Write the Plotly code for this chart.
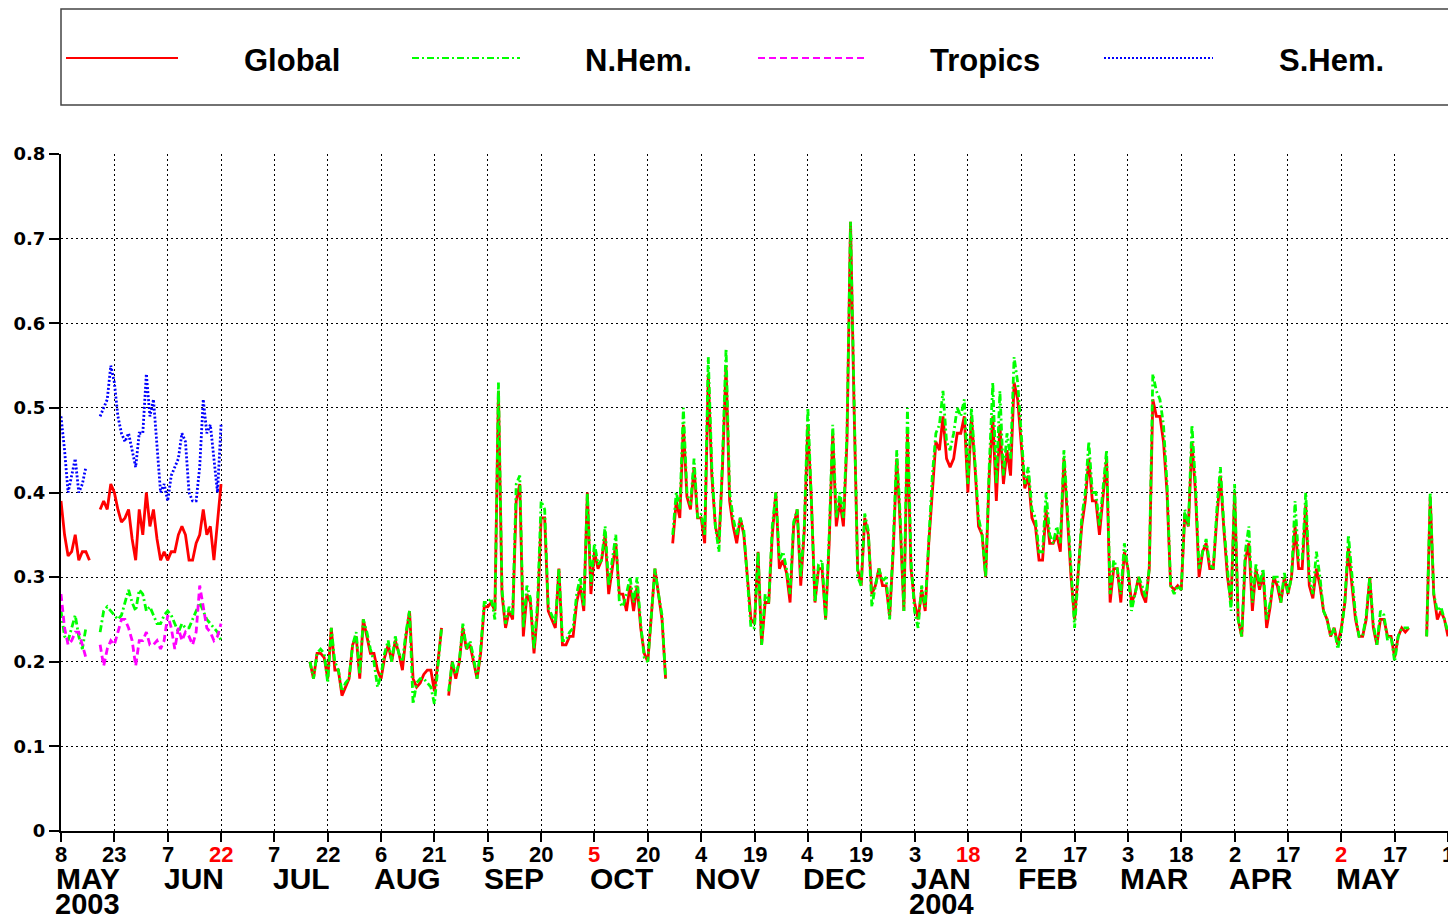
import pandas as pd
import plotly.graph_objects as go

# daily values starting 8 May 2003 (None = no data)
start_date = "2003-05-08"
end_date = "2004-06-01"

global_vals = (
    [0.39, 0.35, 0.325, 0.33, 0.35, 0.32, 0.33, 0.33, 0.32] + [None] * 2 +
    [0.38, 0.39, 0.38, 0.41, 0.40, 0.38, 0.365, 0.37, 0.38, 0.345,
     0.32, 0.38, 0.35, 0.40, 0.36, 0.38, 0.345, 0.32, 0.33, 0.32,
     0.33, 0.33, 0.35, 0.36, 0.35, 0.32, 0.32, 0.34, 0.35, 0.38,
     0.35, 0.36, 0.32, 0.37, 0.41] + [None] * 24 +
    [0.20, 0.18, 0.21, 0.21, 0.205, 0.18, 0.24, 0.19, 0.19, 0.16,
     0.17, 0.18, 0.22, 0.23, 0.18, 0.25, 0.23, 0.21, 0.21, 0.19,
     0.18, 0.205, 0.22, 0.20, 0.225, 0.21, 0.19, 0.23, 0.26, 0.18,
     0.17, 0.175, 0.185, 0.19, 0.19, 0.165, 0.20, 0.24] + [None] +
    [0.16, 0.20, 0.18, 0.20, 0.24, 0.215, 0.22, 0.20, 0.18, 0.21,
     0.265, 0.265, 0.27, 0.26, 0.52, 0.28, 0.24, 0.26, 0.25, 0.39,
     0.41, 0.23, 0.28, 0.27, 0.21, 0.26, 0.37, 0.37, 0.26, 0.25,
     0.24, 0.31, 0.22, 0.22, 0.23, 0.23, 0.27, 0.29, 0.26, 0.40,
     0.28, 0.33, 0.31, 0.32, 0.35, 0.28, 0.31, 0.34, 0.28, 0.28,
     0.26, 0.29, 0.26, 0.29, 0.24, 0.21, 0.20, 0.25, 0.31, 0.28,
     0.25, 0.18] + [None] +
    [0.34, 0.39, 0.37, 0.48, 0.395, 0.38, 0.43, 0.37, 0.37, 0.34,
     0.54, 0.42, 0.36, 0.34, 0.43, 0.55, 0.39, 0.36, 0.34, 0.37,
     0.35, 0.30, 0.25, 0.245, 0.33, 0.22, 0.27, 0.27, 0.35, 0.40,
     0.31, 0.32, 0.305, 0.27, 0.36, 0.38, 0.29, 0.355, 0.48, 0.39,
     0.27, 0.31, 0.31, 0.25, 0.34, 0.47, 0.36, 0.39, 0.36, 0.46,
     0.72, 0.50, 0.31,
     0.29, 0.37, 0.35, 0.28, 0.29, 0.31, 0.29, 0.29, 0.254, 0.33,
     0.44, 0.36, 0.26, 0.47, 0.31, 0.27, 0.25, 0.285, 0.26, 0.34,
     0.40, 0.46, 0.45, 0.49, 0.44, 0.43, 0.44, 0.47, 0.47, 0.49,
     0.40, 0.49, 0.43, 0.36, 0.35, 0.30, 0.42, 0.49, 0.39, 0.48,
     0.41, 0.45, 0.42, 0.53, 0.51, 0.46, 0.405, 0.42, 0.37, 0.36,
     0.32, 0.32, 0.38, 0.34, 0.34,
     0.35, 0.33, 0.44, 0.37, 0.30, 0.25, 0.30, 0.36, 0.39, 0.44,
     0.39, 0.39, 0.35, 0.40, 0.44, 0.27, 0.31, 0.31, 0.27, 0.33,
     0.31, 0.27, 0.28, 0.30, 0.28, 0.27, 0.31, 0.51, 0.49, 0.49,
     0.46, 0.40, 0.29, 0.285, 0.29, 0.285, 0.375, 0.36, 0.46, 0.40,
     0.30, 0.33, 0.34, 0.31, 0.31, 0.37, 0.42, 0.355, 0.30, 0.27,
     0.40,
     0.25, 0.23, 0.32, 0.34, 0.26, 0.31, 0.285, 0.305, 0.24, 0.265,
     0.30, 0.29, 0.27, 0.30, 0.28, 0.30, 0.36, 0.31, 0.31, 0.385,
     0.29, 0.275, 0.31, 0.29, 0.26, 0.25, 0.23, 0.24, 0.22, 0.24,
     0.27, 0.335, 0.29, 0.25, 0.23, 0.23, 0.25, 0.30, 0.24, 0.22,
     0.25, 0.25, 0.23, 0.23, 0.205, 0.23, 0.24, 0.235, 0.24] + [None] * 4 +
    [0.23, 0.395, 0.28, 0.25, 0.26, 0.25, 0.23]
)

nhem_vals = (
    [0.26, 0.23, 0.225, 0.24, 0.255, 0.23, 0.215, 0.24] + [None] * 3 +
    [0.235, 0.26, 0.265, 0.26, 0.255, 0.25, 0.255, 0.27, 0.285, 0.27,
     0.26, 0.285, 0.28, 0.26, 0.265, 0.255, 0.245, 0.245, 0.255, 0.26,
     0.255, 0.245, 0.235, 0.245, 0.24, 0.24, 0.25, 0.26, 0.27, 0.26,
     0.25, 0.245, 0.24, 0.235, 0.225] + [None] * 24 +
    [0.20, 0.18, 0.21, 0.215, 0.21, 0.175, 0.24, 0.20, 0.19, 0.165,
     0.175, 0.18, 0.22, 0.235, 0.185, 0.25, 0.235, 0.215, 0.20, 0.17,
     0.185, 0.21, 0.225, 0.20, 0.23, 0.21, 0.20, 0.235, 0.26, 0.15,
     0.175, 0.18, 0.18, 0.175, 0.17, 0.15, 0.20, 0.24] + [None] +
    [0.165, 0.20, 0.185, 0.20, 0.245, 0.215, 0.225, 0.205, 0.18, 0.215,
     0.27, 0.27, 0.275, 0.25, 0.53, 0.285, 0.245, 0.265, 0.255, 0.41,
     0.42, 0.24, 0.29, 0.275, 0.215, 0.27, 0.39, 0.38, 0.265, 0.255,
     0.245, 0.31, 0.225, 0.225, 0.235, 0.24, 0.28, 0.30, 0.265, 0.40,
     0.29, 0.34, 0.315, 0.32, 0.36, 0.29, 0.32, 0.35, 0.27, 0.265,
     0.28, 0.30, 0.27, 0.30, 0.245, 0.205, 0.20, 0.255, 0.31, 0.28,
     0.255, 0.18] + [None] +
    [0.35, 0.40, 0.38, 0.50, 0.40, 0.385, 0.44, 0.37, 0.375, 0.35,
     0.56, 0.43, 0.36, 0.33, 0.44, 0.57, 0.40, 0.37, 0.35, 0.37,
     0.355, 0.30, 0.24, 0.24, 0.33, 0.22, 0.28, 0.27, 0.36, 0.40,
     0.32, 0.33, 0.31, 0.28, 0.365, 0.38, 0.30, 0.36, 0.50, 0.39,
     0.27, 0.315, 0.32, 0.25, 0.35, 0.48, 0.37, 0.40, 0.37, 0.47,
     0.72, 0.51, 0.30,
     0.29, 0.375, 0.355, 0.265, 0.29, 0.31, 0.295, 0.30, 0.25, 0.34,
     0.45, 0.37, 0.26, 0.50, 0.32, 0.26, 0.24, 0.29, 0.265, 0.35,
     0.42, 0.47, 0.48, 0.52, 0.46, 0.45, 0.47, 0.50, 0.49, 0.51,
     0.41, 0.50, 0.44, 0.37, 0.35, 0.30, 0.43, 0.53, 0.41, 0.52,
     0.42, 0.47, 0.44, 0.56, 0.53, 0.47, 0.41, 0.43, 0.38, 0.37,
     0.33, 0.33, 0.40, 0.35, 0.34,
     0.36, 0.34, 0.45, 0.38, 0.30, 0.24, 0.30, 0.37, 0.40, 0.46,
     0.40, 0.40, 0.36, 0.41, 0.45, 0.28, 0.32, 0.31, 0.28, 0.34,
     0.31, 0.26, 0.28, 0.30, 0.29, 0.275, 0.31, 0.54, 0.52, 0.51,
     0.48, 0.41, 0.29, 0.28, 0.29, 0.285, 0.38, 0.36, 0.48, 0.41,
     0.31, 0.33, 0.345, 0.315, 0.31, 0.38, 0.43, 0.36, 0.31, 0.26,
     0.41,
     0.25, 0.23, 0.33, 0.36, 0.27, 0.315, 0.29, 0.31, 0.25, 0.27,
     0.30, 0.30, 0.27, 0.305, 0.28, 0.30, 0.39, 0.32, 0.32, 0.40,
     0.30, 0.28, 0.33, 0.30, 0.26, 0.25, 0.23, 0.24, 0.215, 0.235,
     0.27, 0.35, 0.30, 0.255, 0.23, 0.23, 0.255, 0.30, 0.245, 0.22,
     0.26, 0.255, 0.225, 0.23, 0.20, 0.23, 0.24, 0.24, 0.24] + [None] * 4 +
    [0.23, 0.40, 0.28, 0.26, 0.265, 0.25, 0.235]
)

tropics_vals = (
    [0.28, 0.24, 0.22, 0.225, 0.235, 0.235, 0.22, 0.205] + [None] * 3 +
    [0.22, 0.195, 0.215, 0.225, 0.22, 0.235, 0.25, 0.25, 0.24, 0.225,
     0.195, 0.225, 0.225, 0.235, 0.22, 0.22, 0.225, 0.215, 0.225, 0.255,
     0.24, 0.215, 0.24, 0.225, 0.235, 0.23, 0.22, 0.235, 0.29, 0.265,
     0.24, 0.235, 0.225, 0.23, 0.245]
)

shem_vals = (
    [0.49, 0.45, 0.40, 0.42, 0.44, 0.40, 0.41, 0.43] + [None] * 3 +
    [0.49, 0.50, 0.51, 0.55, 0.53, 0.49, 0.47, 0.46, 0.47, 0.45,
     0.43, 0.47, 0.47, 0.54, 0.49, 0.51, 0.45, 0.40, 0.41, 0.39,
     0.42, 0.43, 0.44, 0.47, 0.46, 0.40, 0.39, 0.39, 0.43, 0.51,
     0.47, 0.48, 0.44, 0.40, 0.48]
)

tick_days = ["8", "23", "7", "22", "7", "22", "6", "21", "5", "20", "5", "20",
             "4", "19", "4", "19", "3", "18", "2", "17", "3", "18", "2", "17",
             "2", "17", "1"]
red_ticks = [3, 10, 17, 24]
month_names = ["MAY", "JUN", "JUL", "AUG", "SEP", "OCT", "NOV", "DEC",
               "JAN", "FEB", "MAR", "APR", "MAY"]
year_labels = {0: "2003", 8: "2004"}

# page pixel layout
L, R, T, B = 61, 1448, 154, 831
PAGE_W, PAGE_H = 1448, 919


def px_x(px):
    return (px - L) / (R - L)


def px_y(py):
    return (B - py) / (B - T)


dates = pd.date_range(start_date, periods=len(global_vals), freq="D")
tick_dates = pd.date_range(start_date, periods=len(tick_days), freq="15D")

series = [
    ("Global", global_vals, "red", "solid"),
    ("N.Hem.", nhem_vals, "#00ff00", "7px,3px,2px,3px"),
    ("Tropics", tropics_vals, "magenta", "7px,4px"),
    ("S.Hem.", shem_vals, "blue", "2px,2px"),
]

fig = go.Figure()
for name, vals, color, dash in series:
    fig.add_trace(go.Scatter(x=dates[:len(vals)], y=vals, mode="lines", name=name,
                             line=dict(color=color, width=2.8, dash=dash),
                             connectgaps=False, showlegend=False))

fig.update_layout(
    width=PAGE_W, height=PAGE_H,
    margin=dict(l=L, r=PAGE_W - R, t=T, b=PAGE_H - B),
    paper_bgcolor="white", plot_bgcolor="white",
    showlegend=False,
)
fig.update_xaxes(
    range=[start_date, end_date], tickvals=tick_dates, showticklabels=False,
    showline=True, linecolor="black", linewidth=2,
    ticks="outside", ticklen=9, tickwidth=1.5, tickcolor="black",
    showgrid=True, gridcolor="black", gridwidth=1, griddash="2px,3px",
    zeroline=False,
)
fig.update_yaxes(
    range=[0, 0.8], dtick=0.1, tick0=0,
    showline=True, linecolor="black", linewidth=2,
    ticks="outside", ticklen=10, tickwidth=1.5, tickcolor="black",
    showgrid=True, gridcolor="black", gridwidth=1, griddash="2px,3px",
    zeroline=False,
    tickfont=dict(family="DejaVu Sans", size=18, color="black", weight="bold"),
)

# day numbers under the ticks
for i, d in enumerate(tick_days):
    fig.add_annotation(x=tick_dates[i], y=px_y(854), xref="x", yref="paper", text=d,
                       showarrow=False, xanchor="center", yanchor="middle",
                       font=dict(family="Liberation Sans", size=22, weight="bold",
                                 color="red" if i in red_ticks else "black"))

# month and year labels under the day numbers
for i, m in enumerate(month_names):
    xm = tick_dates[2 * i] + pd.Timedelta(hours=180)
    fig.add_annotation(x=xm, y=px_y(878), xref="x", yref="paper", text=m,
                       showarrow=False, xanchor="center", yanchor="middle",
                       font=dict(family="Liberation Sans", size=30, color="black", weight="bold"))
    if i in year_labels:
        fig.add_annotation(x=xm, y=px_y(904), xref="x", yref="paper", text=year_labels[i],
                           showarrow=False, xanchor="center", yanchor="middle",
                           font=dict(family="Liberation Sans", size=29, color="black", weight="bold"))

# legend box drawn above the plot
fig.add_shape(type="rect", xref="paper", yref="paper",
              x0=0, x1=px_x(1470), y0=px_y(105), y1=px_y(9),
              line=dict(color="#444444", width=1.5), fillcolor="white")
legend_pos = [(66, 178, 292), (412, 520, 638), (758, 866, 985), (1104, 1213, 1331)]
for (name, vals, color, dash), (a, b, c) in zip(series, legend_pos):
    fig.add_shape(type="line", xref="paper", yref="paper",
                  x0=px_x(a), x1=px_x(b), y0=px_y(58), y1=px_y(58),
                  line=dict(color=color, width=2, dash=dash))
    fig.add_annotation(x=px_x(c), y=px_y(60), xref="paper", yref="paper", text=name,
                       showarrow=False, xanchor="center", yanchor="middle",
                       font=dict(family="Liberation Sans", size=31, color="black", weight="bold"))

# drop the default page margin so the figure fills the window exactly
fig.write_html("out.html", config={"displayModeBar": False},
               post_script="document.body.style.margin='0';document.body.style.overflow='hidden';")
